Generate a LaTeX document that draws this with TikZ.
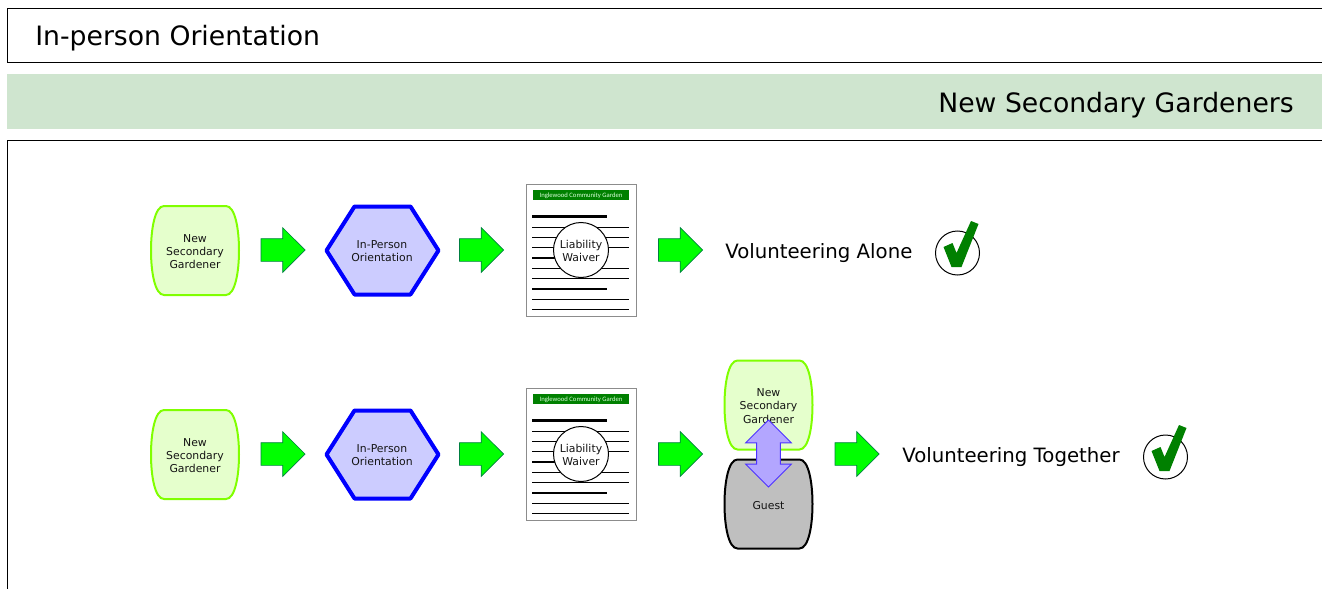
\documentclass[tikz,border=0pt]{standalone}
\usepackage{fontspec}
\setmainfont{DejaVu Sans}
\newfontfamily\docfont{Carlito}
\usetikzlibrary{shapes.arrows}
\definecolor{bandgreen}{HTML}{CFE5CF}
\definecolor{paleleaf}{HTML}{E5FFCC}
\definecolor{leafline}{HTML}{80FF00}
\definecolor{paleblue}{HTML}{CCCCFF}
\definecolor{arrowgreen}{HTML}{00FF00}
\definecolor{arrowedge}{HTML}{008040}
\definecolor{darkgreen}{HTML}{008000}
\definecolor{guestgray}{HTML}{BFBFBF}
\definecolor{violetfill}{HTML}{B3A6FF}
\definecolor{violetline}{HTML}{4D33FF}
\tikzset{
  x=0.75pt,y=-0.75pt,
  label5/.style={font=\fontsize{8.15pt}{10pt}\selectfont,align=center,text=black!92,inner sep=0},
  biglabel/.style={font=\fontsize{14.8pt}{18pt}\selectfont,inner sep=0,anchor=west},
  headlabel/.style={font=\fontsize{20pt}{24pt}\selectfont,inner sep=0},
  flowarrow/.style={single arrow,draw=arrowedge,fill=arrowgreen,line width=0.5pt,anchor=tip,
    minimum height=33pt,minimum width=33pt,inner xsep=0pt,inner ysep=8.25pt,
    single arrow head extend=8.25pt,single arrow tip angle=90,text width=0pt,text height=0pt,text depth=0pt},
  swaparrow/.style={double arrow,draw=violetline,fill=violetfill,line width=0.6pt,
    minimum height=50.25pt,minimum width=33.75pt,inner xsep=0pt,inner ysep=8.6pt,
    double arrow head extend=8.25pt,double arrow tip angle=90,text width=0pt,text height=0pt,text depth=0pt,rotate=90},
  thinrule/.style={line width=0.75pt,black},
  thickrule/.style={line width=1.6pt,black},
  pics/barrel/.style n args={2}{code={
    \draw[draw=#1,fill=#2,line width=1.5pt]
      (-31,-44.5) -- (31,-44.5) .. controls (40,-44.5) and (44,-22) .. (44,0)
      .. controls (44,22) and (40,44.5) .. (31,44.5) -- (-31,44.5)
      .. controls (-40,44.5) and (-44,22) .. (-44,0)
      .. controls (-44,-22) and (-40,-44.5) .. (-31,-44.5) -- cycle;
  }},
  pics/hexa/.style={code={
    \draw[draw=blue,fill=paleblue,line width=3pt,line join=round]
      (-28,-44) -- (28,-44) -- (56,0) -- (28,44) -- (-28,44) -- (-56,0) -- cycle;
  }},
  pics/waiver/.style={code={
    \draw[draw=black!45,fill=white,line width=0.75pt] (-55,-66) rectangle (55,66);
    \fill[darkgreen] (-48,-60) rectangle (48,-50);
    \node[text=white!85!green,font=\docfont\fontsize{5pt}{6pt}\selectfont,inner sep=0] at (0,-54.5) {Inglewood Community Garden};
    \draw[thickrule] (-49,-33.5) -- (26,-33.5);
    \draw[thinrule] (-49,-23) -- (48,-23);
    \draw[thinrule] (-49,-13) -- (48,-13);
    \draw[thinrule] (-49,-3) -- (48,-3);
    \draw[thickrule] (-49,8) -- (26,8);
    \draw[thinrule] (-49,18) -- (48,18);
    \draw[thinrule] (-49,28.5) -- (48,28.5);
    \draw[thickrule] (-49,39) -- (26,39);
    \draw[thinrule] (-49,49) -- (48,49);
    \draw[thinrule] (-49,59.5) -- (48,59.5);
    \draw[black,fill=white,line width=0.75pt] (0,0) circle (27.5);
  }},
  pics/tick/.style={code={
    \draw[black,line width=0.75pt,fill=white] (0,0) circle (22);
    \fill[darkgreen] (-14,-6) -- (-5,-10) -- (-1,0) -- (13.5,-32) -- (21,-29) -- (4,14) -- (-6,14) -- cycle;
  }},
}
\begin{document}
\begin{tikzpicture}
\clip (0,0) rectangle (1322,589);
% header boxes
\draw[black,line width=0.75pt] (7,8) rectangle (1340,62.5);
\node[headlabel,anchor=west] (title) at (35,38.5) {In-person Orientation};
\fill[bandgreen] (7,74) rectangle (1340,129);
\node[headlabel,anchor=east] (lane) at (1294,105) {New Secondary Gardeners};
\draw[black,line width=0.75pt] (7,140) rectangle (1340,620);
% row 1
\pic at (195,250.5) {barrel={leafline}{paleleaf}};
\node[label5] (g1) at (195,251.5) {New\\Secondary\\Gardener};
\node[flowarrow] (a1) at (305.5,250) {};
\pic at (382.5,250.5) {hexa};
\node[label5] (h1) at (382,251) {In-Person\\Orientation};
\node[flowarrow] (a2) at (504,250) {};
\pic at (581,250) {waiver};
\node[label5] (w1) at (581,251) {Liability\\Waiver};
\node[flowarrow] (a3) at (703,250) {};
\node[biglabel] (v1) at (725,253) {Volunteering Alone};
\pic at (957.5,253) {tick};
% row 2
\pic at (195,454.5) {barrel={leafline}{paleleaf}};
\node[label5] (g2) at (195,455.5) {New\\Secondary\\Gardener};
\node[flowarrow] (a4) at (305.5,454) {};
\pic at (382.5,454.5) {hexa};
\node[label5] (h2) at (382,455) {In-Person\\Orientation};
\node[flowarrow] (a5) at (504,454) {};
\pic at (581,454) {waiver};
\node[label5] (w2) at (581,455) {Liability\\Waiver};
\node[flowarrow] (a6) at (703,454) {};
\pic at (768.5,405) {barrel={leafline}{paleleaf}};
\node[label5] (g3) at (768.5,406) {New\\Secondary\\Gardener};
\pic at (768.5,504) {barrel={black}{guestgray}};
\node[label5] (guest) at (768.5,505.5) {Guest};
\node[swaparrow] (swap) at (768.5,453.5) {};
\node[flowarrow] (a7) at (879.5,454) {};
\node[biglabel] (v2) at (902,457) {Volunteering Together};
\pic at (1165.5,457) {tick};
\end{tikzpicture}
\end{document}
